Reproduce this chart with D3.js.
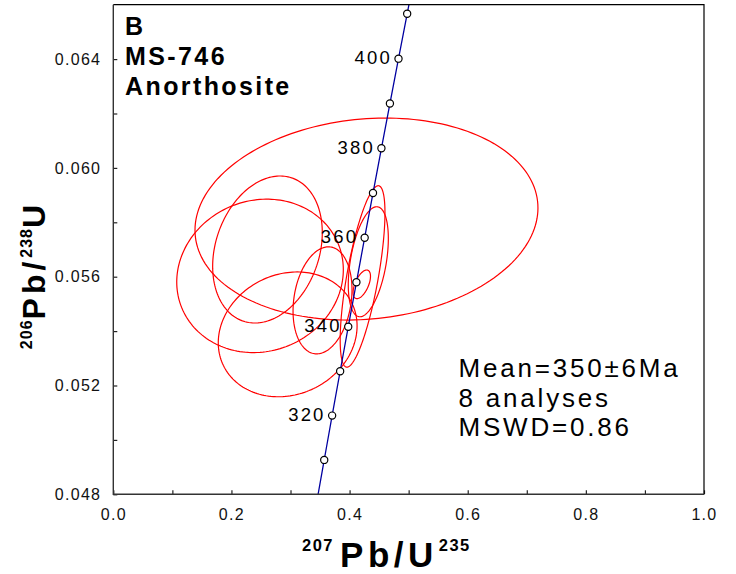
<!DOCTYPE html>
<html>
<head>
<meta charset="utf-8">
<script src="https://cdn.jsdelivr.net/npm/d3@7"></script>
<style>
  html, body { margin: 0; padding: 0; background: #fff; }
  svg { display: block; font-family: "Liberation Sans", Arial, sans-serif; }
</style>
</head>
<body>
<svg id="chart" width="736" height="574"></svg>
<script>
// Concordia reference points (age in Ma, 207Pb/235U, 206Pb/238U)
const concordiaAges = [300, 310, 320, 330, 340, 350, 360, 370, 380, 390, 400, 410, 420];
const concordia207 = [0.34374, 0.35707, 0.37045, 0.38403, 0.39773, 0.41156, 0.42553, 0.43964, 0.45389, 0.46828, 0.48281, 0.49749, 0.51232];
const concordia206 = [0.047637, 0.049264, 0.050893, 0.052524, 0.054158, 0.055794, 0.057434, 0.059075, 0.060720, 0.062366, 0.064016, 0.065667, 0.067322];
const markerAges = [310, 320, 330, 340, 350, 360, 370, 380, 390, 400, 410];
const labelledAges = [320, 340, 360, 380, 400];

// Zircon analyses: ratio centres, error half-widths and error correlation
const spotR207 = [0.4286, 0.2610, 0.2484, 0.2952, 0.3542, 0.4220, 0.4317, 0.4207];
const spotR206 = [0.05812, 0.05700, 0.05603, 0.05388, 0.05513, 0.05601, 0.05655, 0.05572];
const spotErr207 = [0.2903, 0.0928, 0.1410, 0.1175, 0.0499, 0.0379, 0.0339, 0.0147];
const spotErr206 = [0.003713, 0.002702, 0.002820, 0.002294, 0.001967, 0.003335, 0.002022, 0.000526];
const spotRho = [0.11, 0.23, 0.08, 0.135, 0.20, 0.70, 0.42, 0.56];

// Axis ticks
const xMajorTicks = [0.0, 0.2, 0.4, 0.6, 0.8, 1.0];
const xMinorTicks = [0.1, 0.3, 0.5, 0.7, 0.9];
const yMajorTicks = [0.048, 0.052, 0.056, 0.060, 0.064];
const yMinorTicks = [0.050, 0.054, 0.058, 0.062];

const sampleLines = ["B", "MS-746", "Anorthosite"];
const statLines = ["Mean=350±6Ma", "8 analyses", "MSWD=0.86"];

const svg = d3.select("#chart");
const plot = { left: 113.3, right: 704, top: 4.7, bottom: 494.3 };

const x = d3.scaleLinear().domain([0, 1]).range([plot.left, plot.right]);
const y = d3.scaleLinear().domain([0.048, 0.066]).range([plot.bottom, plot.top]);

svg.append("defs").append("clipPath").attr("id", "plot-clip")
  .append("rect")
  .attr("x", plot.left).attr("y", plot.top)
  .attr("width", plot.right - plot.left).attr("height", plot.bottom - plot.top);

// Error ellipses
const ellipseLine = d3.line().x(d => x(d[0])).y(d => y(d[1]));
const steps = d3.range(0, 361, 2).map(a => a * Math.PI / 180);
const ellipses = spotR207.map((cx, i) => {
  const ex = spotErr207[i], ey = spotErr206[i], r = spotRho[i];
  const s = Math.sqrt(1 - r * r);
  return steps.map(t => [cx + ex * Math.cos(t), spotR206[i] + ey * (r * Math.cos(t) + s * Math.sin(t))]);
});
svg.append("g").attr("clip-path", "url(#plot-clip)")
  .selectAll("path").data(ellipses).join("path")
  .attr("d", ellipseLine)
  .attr("fill", "none")
  .attr("stroke", "#ff0000")
  .attr("stroke-width", 1.2);

// Concordia curve
const concordia = concordiaAges.map((a, i) => ({ age: a, r207: concordia207[i], r206: concordia206[i] }));
svg.append("g").attr("clip-path", "url(#plot-clip)")
  .append("path")
  .datum(concordia)
  .attr("d", d3.line().curve(d3.curveMonotoneX).x(d => x(d.r207)).y(d => y(d.r206)))
  .attr("fill", "none")
  .attr("stroke", "#0000a0")
  .attr("stroke-width", 1.3);

const markers = concordia.filter(d => markerAges.includes(d.age));
svg.append("g").selectAll("circle").data(markers).join("circle")
  .attr("cx", d => x(d.r207))
  .attr("cy", d => y(d.r206))
  .attr("r", 3.6)
  .attr("fill", "#fff")
  .attr("stroke", "#000")
  .attr("stroke-width", 1.2);

svg.append("g").selectAll("text")
  .data(markers.filter(d => labelledAges.includes(d.age)))
  .join("text")
  .attr("x", d => x(d.r207) - 6.5)
  .attr("y", d => y(d.r206) + 5.5)
  .attr("text-anchor", "end")
  .attr("font-size", 18.5)
  .attr("letter-spacing", 2.2)
  .attr("fill", "#000")
  .text(d => d.age);

// Axes with inward ticks
function styleAxis(g) {
  g.select(".domain").remove();
  g.selectAll(".tick line").attr("stroke", "#222").attr("stroke-width", 1.2);
  g.selectAll(".tick text").attr("font-size", 16).attr("letter-spacing", 1.3)
    .attr("fill", "#111").attr("font-family", "Liberation Sans, Arial, sans-serif");
}

svg.append("g").attr("transform", `translate(0,${plot.bottom})`)
  .call(d3.axisBottom(x).tickValues(xMajorTicks).tickFormat(d3.format(".1f"))
    .tickSizeInner(-4).tickSizeOuter(0).tickPadding(14.5))
  .call(styleAxis);
svg.append("g").attr("transform", `translate(0,${plot.bottom})`)
  .call(d3.axisBottom(x).tickValues(xMinorTicks).tickFormat("")
    .tickSizeInner(-4).tickSizeOuter(0))
  .call(styleAxis);

svg.append("g").attr("transform", `translate(${plot.left},0)`)
  .call(d3.axisLeft(y).tickValues(yMajorTicks).tickFormat(d3.format(".3f"))
    .tickSizeInner(-4).tickSizeOuter(0).tickPadding(12))
  .call(styleAxis);
svg.append("g").attr("transform", `translate(${plot.left},0)`)
  .call(d3.axisLeft(y).tickValues(yMinorTicks).tickFormat("")
    .tickSizeInner(-4).tickSizeOuter(0))
  .call(styleAxis);

// Frame
svg.append("path")
  .attr("d", `M${plot.left},${plot.top}H${plot.right}V${plot.bottom}`)
  .attr("fill", "none").attr("stroke", "#000").attr("stroke-width", 1.2);
svg.append("path")
  .attr("d", `M${plot.left},${plot.top}V${plot.bottom}H${plot.right}`)
  .attr("fill", "none").attr("stroke", "#333").attr("stroke-width", 1.4);

// Sample label
svg.append("g").selectAll("text").data(sampleLines).join("text")
  .attr("x", 125)
  .attr("y", (d, i) => 35 + i * 30)
  .attr("font-size", 25)
  .attr("font-weight", "bold")
  .attr("letter-spacing", 2.4)
  .attr("fill", "#000")
  .text(d => d);

// Age statistics
svg.append("g").selectAll("text").data(statLines).join("text")
  .attr("x", 458.5)
  .attr("y", (d, i) => 377 + i * 29.7)
  .attr("font-size", 26)
  .attr("letter-spacing", 2.8)
  .attr("fill", "#000")
  .text(d => d);

// Axis titles
const xTitle = svg.append("text")
  .attr("x", 302).attr("y", 567)
  .attr("font-weight", "bold")
  .attr("fill", "#000");
xTitle.append("tspan").attr("font-size", 16.5).attr("letter-spacing", 1.5).attr("dy", -16).text("207");
xTitle.append("tspan").attr("font-size", 35).attr("letter-spacing", 4.5).attr("dx", 6).attr("dy", 16).text("Pb/U");
xTitle.append("tspan").attr("font-size", 16.5).attr("letter-spacing", 1.5).attr("dx", 1).attr("dy", -16).text("235");

const yTitle = svg.append("text")
  .attr("transform", "translate(45,277) rotate(-90)")
  .attr("text-anchor", "middle")
  .attr("font-weight", "bold")
  .attr("fill", "#000");
yTitle.append("tspan").attr("font-size", 16).attr("letter-spacing", 1).attr("dy", -13).text("206");
yTitle.append("tspan").attr("font-size", 32).attr("letter-spacing", 4).attr("dy", 13).text("Pb/");
yTitle.append("tspan").attr("font-size", 16).attr("letter-spacing", 1).attr("dy", -13).text("238");
yTitle.append("tspan").attr("font-size", 32).attr("letter-spacing", 0).attr("dy", 13).text("U");
</script>
</body>
</html>
